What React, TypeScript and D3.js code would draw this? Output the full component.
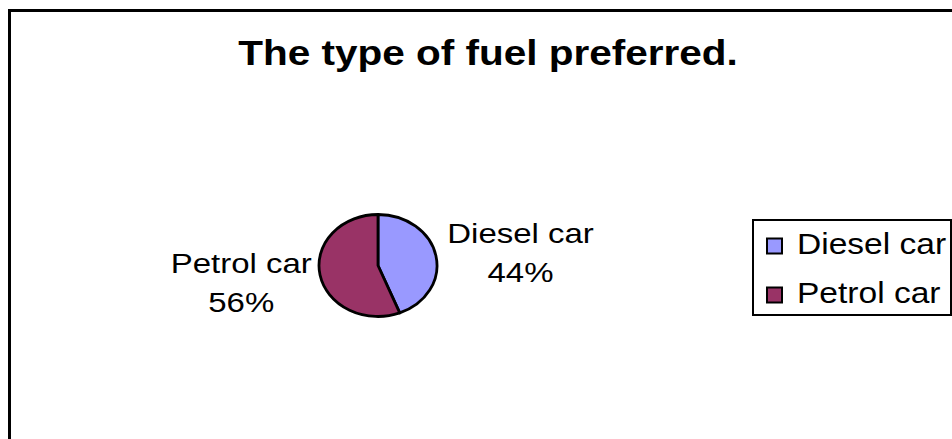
import React, { useEffect, useRef } from "react";
import * as d3 from "d3";

const categories = ["Diesel car", "Petrol car"];
const values = [44, 56];
const colors = ["#9999FF", "#993366"];
const title = "The type of fuel preferred.";

const W = 952;
const H = 439;
const SX = 1.157; // horizontal stretch of the original rendering
const FONT = "'Liberation Sans', Arial, Helvetica, sans-serif";

export default function App() {
  const ref = useRef<SVGSVGElement>(null);

  useEffect(() => {
    const svg = d3.select(ref.current);
    svg.selectAll("*").remove();

    svg.append("rect").attr("x", 0).attr("y", 0).attr("width", W).attr("height", H).attr("fill", "#fff");

    // outer frame (extends past the viewport on the right/bottom)
    svg.append("rect")
      .attr("x", 9.5).attr("y", 10.5)
      .attr("width", 958).attr("height", 440)
      .attr("fill", "none").attr("stroke", "#000").attr("stroke-width", 3);

    // title
    svg.append("text")
      .attr("transform", `translate(488,65) scale(${SX},1)`)
      .attr("text-anchor", "middle")
      .attr("font-family", FONT)
      .attr("font-weight", "bold")
      .attr("font-size", 35)
      .attr("fill", "#000")
      .text(title);

    // pie
    const cx = 378, cy = 265.5, R = 51;
    const data = categories.map((c, i) => ({ name: c, value: values[i], color: colors[i] }));
    const pie = d3.pie<any>().sort(null).value((d: any) => d.value);
    const arcs = pie(data);
    const arc = d3.arc<any>().innerRadius(0).outerRadius(R);
    const total = d3.sum(values);

    const g = svg.append("g").attr("transform", `translate(${cx},${cy}) scale(${SX},1)`);
    g.selectAll("path").data(arcs).enter().append("path")
      .attr("d", arc as any)
      .attr("fill", (d: any) => d.data.color)
      .attr("stroke", "#000")
      .attr("stroke-width", 2.8)
      .attr("stroke-linejoin", "round")
      .attr("vector-effect", "non-scaling-stroke");

    // data labels
    const labelR = R * 1.12;
    arcs.forEach((a: any) => {
      const mid = (a.startAngle + a.endAngle) / 2;
      const ax = cx + Math.sin(mid) * labelR * SX;
      const ay = cy - Math.cos(mid) * labelR;
      const right = Math.sin(mid) >= 0;
      const pct = Math.round((a.data.value / total) * 100) + "%";
      const lg = svg.append("g");
      const t1 = lg.append("text")
        .attr("text-anchor", "middle")
        .attr("font-family", FONT).attr("font-size", 28.5).attr("fill", "#000")
        .text(a.data.name);
      const w = ((t1.node() as SVGTextElement).getBBox().width) * SX;
      const bx = right ? ax + w / 2 + 4 : ax - w / 2 - 1;
      const centerY = right ? ay - 3 : ay + 6;
      const b1 = centerY - 9.25;
      t1.attr("transform", `translate(${bx},${b1}) scale(${SX},1)`);
      lg.append("text")
        .attr("transform", `translate(${bx},${b1 + 39}) scale(${SX},1)`)
        .attr("text-anchor", "middle")
        .attr("font-family", FONT).attr("font-size", 28.5).attr("fill", "#000")
        .text(pct);
    });

    // legend
    const lgX = 753, lgY = 220, lgW = 198, lgH = 95;
    svg.append("rect")
      .attr("x", lgX).attr("y", lgY).attr("width", lgW).attr("height", lgH)
      .attr("fill", "#fff").attr("stroke", "#000").attr("stroke-width", 2);
    const rowY = d3.scalePoint<string>().domain(categories).range([246, 295]);
    categories.forEach((c, i) => {
      const y = rowY(c) as number;
      svg.append("rect")
        .attr("x", 767).attr("y", y - 7.5).attr("width", 15).attr("height", 15)
        .attr("fill", colors[i]).attr("stroke", "#000").attr("stroke-width", 2);
      svg.append("text")
        .attr("transform", `translate(797,${y + 8}) scale(${SX},1)`)
        .attr("font-family", FONT).attr("font-size", 29).attr("fill", "#000")
        .text(c);
    });
  }, []);

  return (
    <svg
      ref={ref}
      width={W}
      height={H}
      style={{ position: "absolute", left: 0, top: 0, display: "block" }}
    />
  );
}
